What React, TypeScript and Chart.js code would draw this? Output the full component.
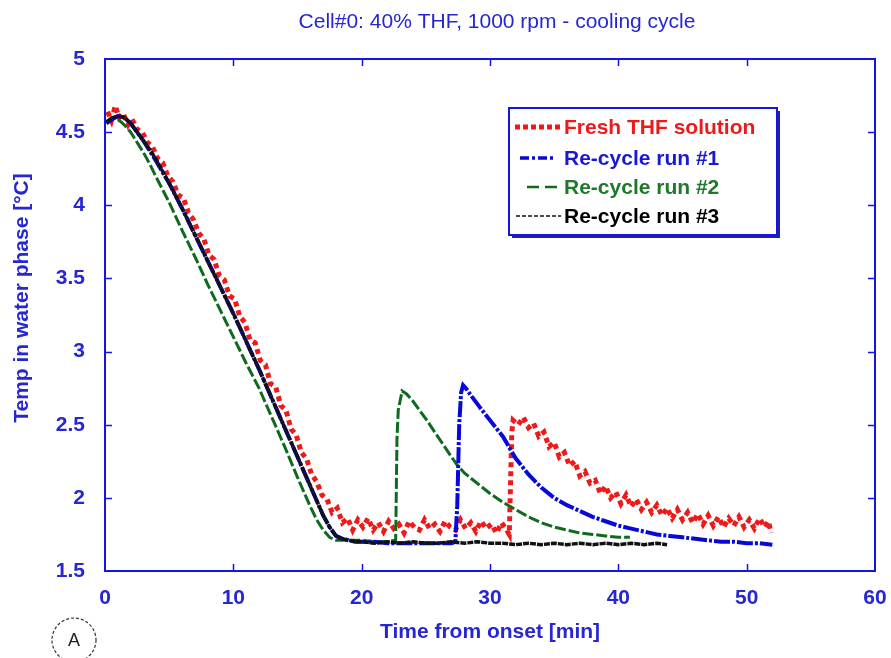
import React, { useEffect, useRef } from "react";
import { Chart, registerables } from "chart.js";

Chart.register(...registerables);

const TITLE = "Cell#0: 40% THF, 1000 rpm - cooling cycle";
const X_TITLE = "Time from onset [min]";
const Y_TITLE = "Temp in water phase [°C]";
const SERIES_NAMES = ["Fresh THF solution", "Re-cycle run #1", "Re-cycle run #2", "Re-cycle run #3"];
const X_TICKS = [0, 10, 20, 30, 40, 50, 60];
const Y_TICKS = [1.5, 2, 2.5, 3, 3.5, 4, 4.5, 5];

// Fresh THF solution
const freshT = [
  0.2, 0.5, 0.8, 1.1, 1.4, 1.8, 2.1, 2.5, 2.9, 3.3,
  3.7, 4.1, 4.5, 4.9, 5.3, 5.7, 6.1, 6.5, 6.9, 7.3,
  7.7, 8.1, 8.5, 8.9, 9.3, 9.7, 10.1, 10.5, 10.9, 11.3,
  11.7, 12.1, 12.5, 12.9, 13.3, 13.7, 14.1, 14.5, 14.9, 15.3,
  15.7, 16.1, 16.5, 16.9, 17.3, 17.7, 18.1, 18.5, 18.9, 19.3,
  19.7, 20.1, 20.5, 20.9, 21.3, 21.7, 22.1, 22.5, 22.9, 23.3,
  23.7, 24.1, 24.5, 24.9, 25.3, 25.7, 26.1, 26.5, 26.9, 27.3,
  27.7, 28.1, 28.5, 28.9, 29.3, 29.7, 30.1, 30.5, 30.9, 31.3,
  31.5, 31.6, 31.7, 31.8, 32.2, 32.6, 33.0, 33.4, 33.8, 34.2,
  34.6, 35.0, 35.4, 35.8, 36.2, 36.6, 37.0, 37.4, 37.8, 38.2,
  38.6, 39.0, 39.4, 39.8, 40.2, 40.6, 41.0, 41.4, 41.8, 42.2,
  42.6, 43.0, 43.4, 43.8, 44.2, 44.6, 45.0, 45.4, 45.8, 46.2,
  46.6, 47.0, 47.4, 47.8, 48.2, 48.6, 49.0, 49.4, 49.8, 50.2,
  50.6, 51.0, 51.4, 51.7, 51.9,
];
const freshY = [
  4.64, 4.58, 4.68, 4.6, 4.63, 4.55, 4.59, 4.52, 4.5, 4.43,
  4.4, 4.32, 4.29, 4.2, 4.16, 4.07, 4.05, 3.95, 3.9, 3.81,
  3.77, 3.66, 3.63, 3.52, 3.49, 3.38, 3.36, 3.24, 3.2, 3.08,
  3.06, 2.94, 2.91, 2.78, 2.76, 2.63, 2.6, 2.47, 2.43, 2.31,
  2.27, 2.16, 2.11, 2.02, 1.99, 1.9, 1.93, 1.83, 1.86, 1.78,
  1.85, 1.8, 1.86, 1.78, 1.83, 1.77, 1.84, 1.79, 1.82, 1.76,
  1.84, 1.8, 1.78, 1.85, 1.79, 1.82, 1.77, 1.84, 1.8, 1.78,
  1.85, 1.79, 1.83, 1.77, 1.84, 1.79, 1.82, 1.76, 1.83, 1.78,
  1.75, 2.1, 2.45, 2.53, 2.5, 2.55, 2.48, 2.51, 2.42, 2.45,
  2.35, 2.38, 2.28, 2.31, 2.22, 2.25, 2.15, 2.18, 2.1, 2.12,
  2.03, 2.08, 2.0, 2.04, 1.96, 2.02, 1.94, 1.99, 1.92, 1.97,
  1.9, 1.95, 1.88, 1.93, 1.86, 1.92, 1.85, 1.9, 1.83, 1.89,
  1.82, 1.88, 1.81, 1.87, 1.8, 1.86, 1.81, 1.87, 1.8, 1.85,
  1.79, 1.86, 1.8, 1.84, 1.76,
];

// Re-cycle run #1
const run1T = [
  0.1, 0.6, 1.0, 1.5, 2.0, 2.5, 3.0, 3.5, 4.0, 5.0,
  6, 7, 8, 9, 10, 11, 12, 13, 14, 15,
  16, 16.5, 17, 17.5, 18, 18.5, 19, 19.5, 20, 21,
  22, 23, 24, 25, 26, 27, 27.3, 27.45, 27.6, 27.75,
  27.9, 28.2, 28.6, 29.2, 30, 31, 32, 33, 34, 35,
  36, 37, 38, 39, 40, 41, 42, 43, 44, 45,
  46, 47, 48, 49, 50, 51, 52,
];
const run1Y = [
  4.56, 4.59, 4.61, 4.6, 4.56, 4.5, 4.44, 4.37, 4.3, 4.15,
  3.98, 3.8, 3.62, 3.44, 3.26, 3.07, 2.88, 2.68, 2.48, 2.28,
  2.08, 1.98, 1.88, 1.8, 1.74, 1.72, 1.71, 1.7, 1.7, 1.7,
  1.69, 1.69, 1.69, 1.69, 1.69, 1.69, 1.7, 1.95, 2.5, 2.72,
  2.77, 2.74, 2.69, 2.62, 2.53, 2.42, 2.27, 2.16, 2.07, 2.0,
  1.95, 1.91, 1.87, 1.84, 1.81, 1.79, 1.77, 1.75, 1.74, 1.73,
  1.72, 1.71, 1.7, 1.7, 1.69, 1.69, 1.68,
];

// Re-cycle run #2
const run2T = [
  0.1, 0.6, 1.0, 1.5, 2.0, 2.5, 3.0, 3.5, 4.0, 5.0,
  6, 7, 8, 9, 10, 11, 12, 13, 14, 15,
  15.5, 16, 16.5, 17, 17.5, 18, 19, 20, 21, 22,
  22.65, 22.75, 22.85, 23.15, 23.5, 24, 25, 26, 27, 27.4,
  28, 29, 30, 31, 32, 33, 34, 35, 36, 37,
  38, 39, 40, 40.9,
];
const run2Y = [
  4.57, 4.6, 4.59, 4.55, 4.5, 4.43, 4.36, 4.28, 4.19, 4.02,
  3.83, 3.65, 3.46, 3.28, 3.1, 2.92, 2.75, 2.55, 2.35, 2.14,
  2.04, 1.94, 1.85, 1.78, 1.73, 1.71, 1.71, 1.71, 1.7, 1.7,
  1.71, 2.4, 2.6, 2.73, 2.71, 2.66, 2.54, 2.41, 2.28, 2.23,
  2.17, 2.1, 2.03, 1.97, 1.92, 1.87, 1.83, 1.8, 1.78, 1.76,
  1.75, 1.74, 1.73, 1.73,
];

// Re-cycle run #3
const run3T = [
  0.1, 0.6, 1.0, 1.5, 2.0, 2.5, 3.0, 3.5, 4.0, 5.0,
  6, 7, 8, 9, 10, 11, 12, 13, 14, 15,
  16, 16.5, 17, 17.5, 18, 18.5, 19, 19.5, 20, 21,
  22, 23, 24, 25, 26, 27, 28, 29, 30, 31,
  32, 33, 34, 35, 36, 37, 38, 39, 40, 41,
  42, 43, 43.8,
];
const run3Y = [
  4.57, 4.6, 4.61, 4.6, 4.56, 4.5, 4.44, 4.38, 4.31, 4.15,
  3.98, 3.8, 3.62, 3.44, 3.26, 3.07, 2.88, 2.68, 2.48, 2.28,
  2.08, 1.98, 1.88, 1.8, 1.74, 1.72, 1.71, 1.7, 1.7, 1.69,
  1.7, 1.69, 1.7, 1.69, 1.69, 1.7, 1.69, 1.7, 1.69, 1.69,
  1.68, 1.69, 1.68, 1.69, 1.68, 1.69, 1.68, 1.69, 1.68, 1.69,
  1.68, 1.69, 1.68,
];

const AXIS_BLUE = "#1414e6";
const TEXT_BLUE = "#2626d2";
const FONT = "'Liberation Sans', Arial, sans-serif";
const FS = 21;

const STYLES = [
  { color: "#ee1a1a", text: "#ee1a1a", width: 5, dash: [5, 4], order: 3 },
  { color: "#0808d8", text: "#1818d8", width: 4, dash: [16, 2, 3, 2], order: 1 },
  { color: "#0f6a1f", text: "#1d7a2a", width: 3, dash: [11, 3], order: 2 },
  { color: "#111111", text: "#000000", width: 3.5, dash: [6, 1], order: 0 },
];

const LEGEND_SAMPLE = [
  { x0: 515, x1: 561, width: 5, dash: [5, 3] },
  { x0: 520, x1: 556, width: 3.5, dash: [9, 3, 3, 3] },
  { x0: 527, x1: 557, width: 2.5, dash: [12, 6] },
  { x0: 516, x1: 561, width: 1.5, dash: [4, 2] },
];

function zip(t: number[], y: number[]) {
  return t.map((v, i) => ({ x: v, y: y[i] }));
}

const decorPlugin = {
  id: "decor",
  afterDraw(chart: any) {
    const ctx = chart.ctx as CanvasRenderingContext2D;
    const { left, right, top, bottom } = chart.chartArea;
    const xs = chart.scales.x;
    const ys = chart.scales.y;
    ctx.save();
    ctx.strokeStyle = AXIS_BLUE;
    ctx.lineWidth = 2;
    ctx.setLineDash([]);
    ctx.strokeRect(left, top, right - left, bottom - top);
    ctx.lineWidth = 1.5;
    ctx.beginPath();
    X_TICKS.forEach((v) => {
      if (v === X_TICKS[0] || v === X_TICKS[X_TICKS.length - 1]) return;
      const px = Math.round(xs.getPixelForValue(v)) + 0.5;
      ctx.moveTo(px, bottom);
      ctx.lineTo(px, bottom - 7);
      ctx.moveTo(px, top);
      ctx.lineTo(px, top + 7);
    });
    Y_TICKS.forEach((v) => {
      if (v === Y_TICKS[0] || v === Y_TICKS[Y_TICKS.length - 1]) return;
      const py = Math.round(ys.getPixelForValue(v)) + 0.5;
      ctx.moveTo(left, py);
      ctx.lineTo(left + 7, py);
      ctx.moveTo(right, py);
      ctx.lineTo(right - 7, py);
    });
    ctx.stroke();

    ctx.fillStyle = TEXT_BLUE;
    ctx.textAlign = "center";
    ctx.textBaseline = "middle";
    ctx.font = `${FS}px ${FONT}`;
    ctx.fillText(TITLE, 497, 22);
    ctx.font = `bold ${FS}px ${FONT}`;
    ctx.fillText(X_TITLE, (left + right) / 2, 632);
    ctx.save();
    ctx.translate(22, 298);
    ctx.rotate(-Math.PI / 2);
    ctx.fillText(Y_TITLE, 0, 0);
    ctx.restore();

    const bx = 509, by = 108, bw = 268, bh = 127;
    ctx.fillStyle = "#2020a0";
    ctx.fillRect(bx + 3, by + 3, bw, bh);
    ctx.fillStyle = "#ffffff";
    ctx.fillRect(bx, by, bw, bh);
    ctx.strokeStyle = AXIS_BLUE;
    ctx.lineWidth = 2;
    ctx.strokeRect(bx, by, bw, bh);
    const rowsY = [127, 158, 187, 216];
    SERIES_NAMES.forEach((name, i) => {
      const s = LEGEND_SAMPLE[i];
      ctx.strokeStyle = STYLES[i].color;
      ctx.lineWidth = s.width;
      ctx.setLineDash(s.dash);
      ctx.beginPath();
      ctx.moveTo(s.x0, rowsY[i]);
      ctx.lineTo(s.x1, rowsY[i]);
      ctx.stroke();
      ctx.setLineDash([]);
      ctx.fillStyle = STYLES[i].text;
      ctx.textAlign = "left";
      ctx.font = `bold ${FS}px ${FONT}`;
      ctx.fillText(name, 564, rowsY[i] + 1);
    });

    ctx.strokeStyle = "#333333";
    ctx.lineWidth = 1.2;
    ctx.setLineDash([3, 2]);
    ctx.beginPath();
    ctx.arc(74, 640, 22, 0, Math.PI * 2);
    ctx.stroke();
    ctx.setLineDash([]);
    ctx.fillStyle = "#222222";
    ctx.textAlign = "center";
    ctx.font = `18px ${FONT}`;
    ctx.fillText("A", 74, 641);
    ctx.restore();
  },
};

export default function App() {
  const ref = useRef<HTMLCanvasElement | null>(null);
  useEffect(() => {
    if (!ref.current) return;
    const series = [zip(freshT, freshY), zip(run1T, run1Y), zip(run2T, run2Y), zip(run3T, run3Y)];
    const chart = new Chart(ref.current, {
      type: "line",
      data: {
        datasets: series.map((d, i) => ({
          label: SERIES_NAMES[i],
          data: d,
          borderColor: STYLES[i].color,
          backgroundColor: STYLES[i].color,
          borderWidth: STYLES[i].width,
          borderDash: STYLES[i].dash,
          borderCapStyle: "butt" as const,
          borderJoinStyle: "miter" as const,
          pointRadius: 0,
          tension: 0,
          fill: false,
          order: STYLES[i].order,
        })),
      },
      options: {
        responsive: false,
        animation: false,
        parsing: false as any,
        layout: { padding: { left: 0, right: 16, top: 59, bottom: 0 } },
        plugins: {
          legend: { display: false },
          title: { display: false },
          tooltip: { enabled: false },
        },
        scales: {
          x: {
            type: "linear",
            min: 0,
            max: 60,
            afterFit: (s: any) => {
              s.height = 87;
              s.paddingLeft = 0;
              s.paddingRight = 0;
            },
            afterBuildTicks: (s: any) => {
              s.ticks = X_TICKS.map((v) => ({ value: v }));
            },
            grid: { display: false, drawTicks: false },
            border: { display: false },
            ticks: {
              padding: 15,
              color: TEXT_BLUE,
              font: { family: FONT, size: FS, weight: "bold" },
              maxRotation: 0,
              callback: (v: any) => String(v),
            },
          },
          y: {
            type: "linear",
            min: 1.5,
            max: 5,
            afterFit: (s: any) => {
              s.width = 105;
              s.paddingTop = 0;
              s.paddingBottom = 0;
            },
            afterBuildTicks: (s: any) => {
              s.ticks = Y_TICKS.map((v) => ({ value: v }));
            },
            grid: { display: false, drawTicks: false },
            border: { display: false },
            ticks: {
              padding: 20,
              color: TEXT_BLUE,
              font: { family: FONT, size: FS, weight: "bold" },
              callback: (v: any) => String(v),
            },
          },
        },
      },
      plugins: [decorPlugin],
    });
    return () => chart.destroy();
  }, []);
  return (
    <div style={{ position: "absolute", left: 0, top: 0, width: 891, height: 658, background: "#fff" }}>
      <canvas ref={ref} width={891} height={658} style={{ display: "block", width: 891, height: 658 }} />
    </div>
  );
}
